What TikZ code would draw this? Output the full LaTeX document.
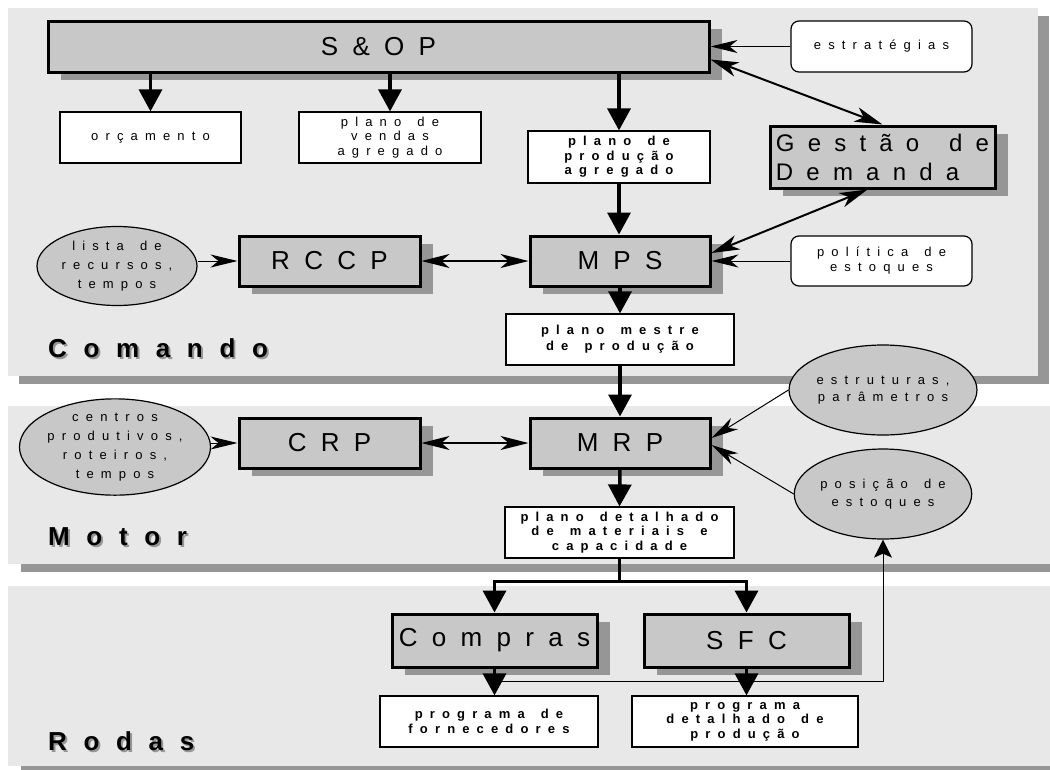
\documentclass[tikz,border=0pt]{standalone}
\usepackage{fontspec}
\setmainfont{Liberation Sans}
\newfontfamily\esp[LetterSpace=55,WordSpace=1.5]{Liberation Sans}
\newfontfamily\rot[LetterSpace=64]{Liberation Sans}
\usetikzlibrary{shapes}
\usetikzlibrary{arrows.meta}
\usetikzlibrary{positioning}
\usetikzlibrary{shadows}

\definecolor{painel}{HTML}{E8E8E8}
\definecolor{cinza}{HTML}{C8C8C8}
\definecolor{sombra}{HTML}{969696}

\newcommand{\rotulo}[1]{{\color{sombra}\rlap{\kern2pt\raisebox{-2pt}{#1}}}#1}

\tikzset{
  bloco/.style={draw, line width=3pt, fill=cinza, inner sep=0pt,
    minimum width=181pt, minimum height=50pt,
    font=\esp\fontsize{26}{30}\selectfont,
    general shadow={draw=none, fill=sombra, shadow xshift=13pt, shadow yshift=-8pt}},
  caixa/.style={draw, line width=1.2pt, fill=white, inner sep=0pt,
    minimum width=182pt, minimum height=51pt, align=center,
    font=\esp\fontsize{13}{14.5}\selectfont},
  caixanegr/.style={caixa, font=\esp\bfseries\fontsize{13}{14.5}\selectfont},
  arred/.style={caixa, rounded corners=8pt},
  elipse/.style={ellipse, draw, line width=1.2pt, fill=cinza, inner sep=0pt,
    minimum width=160pt, minimum height=79pt, align=center,
    font=\esp\fontsize{13}{19}\selectfont},
  secao/.style={anchor=base west, inner sep=0pt, font=\rot\bfseries\fontsize{26}{30}\selectfont},
  grossa/.style={line width=3.5pt, -{Triangle[length=22pt,width=23pt]}},
  dupla/.style={line width=2pt, {Stealth[length=28pt,width=15pt,inset=8pt]}-{Stealth[length=28pt,width=15pt,inset=8pt]}},
  fina/.style={line width=1pt, -{Stealth[length=27pt,width=13pt,inset=8pt]}},
  finadupla/.style={line width=1.5pt, {Stealth[length=28pt,width=14pt,inset=8pt]}-{Stealth[length=28pt,width=14pt,inset=8pt]}},
  retorno/.style={line width=1pt, -{Stealth[length=18pt,width=18pt,inset=4pt]}}
}

\begin{document}
\begin{tikzpicture}[x=1pt, y=-1pt]
  \useasboundingbox (0,0) rectangle (1050,769);
  \clip (0,0) rectangle (1050,769);
  % paineis
  \fill[sombra] (19,16) rectangle (1049,384);
  \fill[painel] (8,8) rectangle (1038,376);
  \fill[sombra] (21,414) rectangle (1070,572);
  \fill[painel] (8,406) rectangle (1060,564);
  \fill[sombra] (21,594) rectangle (1070,775);
  \fill[painel] (8,586) rectangle (1060,766);

  \node (cmd) [secao] at (48,357) {\rotulo{Comando}};
  \node (mot) [secao] at (48,545) {\rotulo{Motor}};
  \node (rod) [secao] at (48,750) {\rotulo{Rodas}};

  % comando
  \node (sop) [bloco, minimum width=661pt, minimum height=51pt] at (378.5,46.5) {S\&OP};
  \node (orc) [caixa, minimum width=181pt] at (150.5,137.5) {orçamento};
  \node (pva) [caixa] at (390,137.5) {plano de\\vendas\\agregado};
  \node (ppa) [caixanegr, minimum height=52pt] at (619,157) {plano de\\produção\\agregado};
  \node (estr) [arred, minimum width=181pt] at (881.5,46.5) {estratégias};
  \node (gdd) [bloco, minimum width=225pt, minimum height=62pt, align=left,
    font=\esp\fontsize{24}{29}\selectfont] at (882.5,157) {Gestão de\\Demanda};
  \node (mps) [bloco, minimum width=180pt] at (620,261) {MPS};
  \node (rccp) [bloco, left=107pt of mps] {RCCP};
  \node (lista) [elipse] at (117,266) {lista de\\recursos,\\tempos};
  \node (pol) [arred, minimum width=181pt, minimum height=50pt,
    font=\esp\fontsize{13}{15}\selectfont] at (881.5,261) {política de\\estoques};
  \node (pmp) [caixanegr, minimum width=228pt, font=\esp\bfseries\fontsize{13}{16}\selectfont]
    at (620,339.5) {plano mestre\\de produção};

  % motor
  \node (mrp) [bloco, minimum width=180pt] at (620,443) {MRP};
  \node (crp) [bloco, left=107pt of mrp] {CRP};
  \node (centros) [elipse] at (115,447) {centros\\produtivos,\\roteiros,\\tempos};
  \node (estrut) [elipse, minimum width=159pt, minimum height=90pt,
    font=\esp\fontsize{13}{17}\selectfont] at (883,390) {estruturas,\\parâmetros};
  \node (pos) [elipse, minimum width=159pt, minimum height=90pt,
    font=\esp\fontsize{13}{18}\selectfont] at (883,494) {posição de\\estoques};
  \node (pdm) [caixanegr, minimum width=229pt] at (619.5,532.5) {plano detalhado\\de materiais e\\capacidade};

  % rodas
  \node (compras) [bloco, minimum width=205pt, minimum height=53pt] at (494.5,640.5) {Compras};
  \node (sfc) [bloco, minimum width=205pt, minimum height=53pt] at (746.5,640.5) {SFC};
  \node (pfor) [caixanegr, minimum width=218pt] at (489,721.5) {programa de\\fornecedores};
  \node (pdp) [caixanegr, minimum width=226pt] at (745,721.5) {programa\\detalhado de\\produção};

  % ligacoes
  \draw[grossa] (orc.north |- sop.south) -- (orc.north);
  \draw[grossa] (pva.north |- sop.south) -- (pva.north);
  \draw[grossa] (ppa.north |- sop.south) -- (ppa.north);
  \draw[fina] (estr.west) -- (sop.east |- estr.west);
  \draw[dupla] ([yshift=-13pt]sop.east) -- (gdd.north);
  \draw[dupla] ([xshift=-15pt]gdd.south) -- ([yshift=8pt]mps.east);
  \draw[fina] (pol.west) -- (mps.east);
  \draw[grossa] (ppa.south) -- (ppa.south |- mps.north);
  \draw[fina] (rccp.west -| lista.east) -- (rccp.west);
  \draw[finadupla] (rccp.east) -- (mps.west);
  \draw[grossa] (mps.south) -- (pmp.north);
  \draw[grossa] (pmp.south) -- (mrp.north);
  \draw[fina] (crp.west -| centros.east) -- (crp.west);
  \draw[finadupla] (crp.east) -- (mrp.west);
  \draw[fina] (estrut.west) -- ([yshift=5pt]mrp.east);
  \draw[fina] (pos.west) -- ([yshift=-2pt]mrp.east);
  \draw[grossa] (mrp.south) -- (pdm.north);
  \draw[line width=3.5pt] (pdm.south) -- ++(0,23) coordinate (div);
  \draw[grossa] (div) -| (compras.north);
  \draw[grossa] (div) -| (sfc.north);
  \draw[retorno] ([yshift=-13pt]compras.south) -| (pos.south);
  \draw[grossa] (compras.south) -- (compras.south |- pfor.north);
  \draw[grossa] (sfc.south) -- (sfc.south |- pdp.north);
\end{tikzpicture}
\end{document}
